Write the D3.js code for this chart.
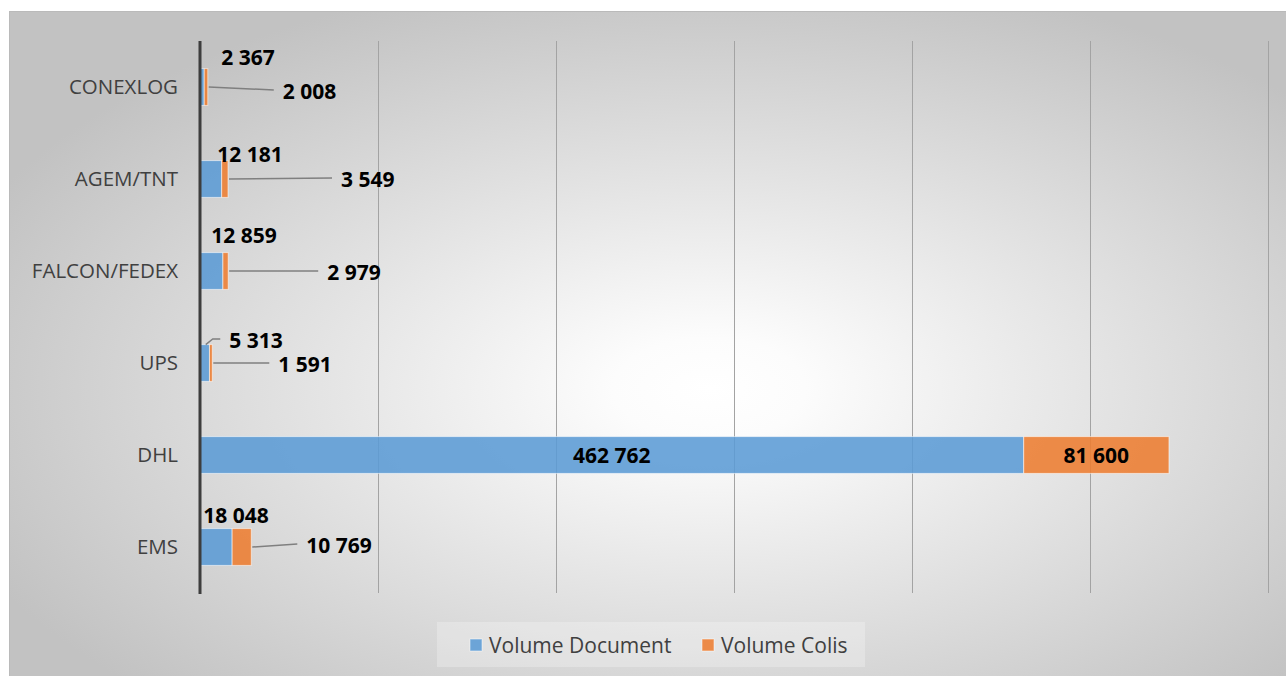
<!DOCTYPE html>
<html>
<head>
<meta charset="utf-8">
<script src="https://cdn.jsdelivr.net/npm/d3@7"></script>
<style>
  html, body { margin: 0; padding: 0; background: #fff; }
  svg { display: block; font-family: "Open Sans", sans-serif; }
</style>
</head>
<body>
<svg id="chart" width="1286" height="676"></svg>
<script>
// data
const categories = ["CONEXLOG", "AGEM/TNT", "FALCON/FEDEX", "UPS", "DHL", "EMS"];
const volumeDocument = [2367, 12181, 12859, 5313, 462762, 18048];
const volumeColis = [2008, 3549, 2979, 1591, 81600, 10769];
const seriesNames = ["Volume Document", "Volume Colis"];
const xTicks = [0, 100000, 200000, 300000, 400000, 500000, 600000];

// where Excel dropped the labels (offsets in px, not data)
const docLabelPos = [
  { dx: 48, dy: -30 },
  { dx: 50, dy: -25 },
  { dx: 44, dy: -36 },
  { dx: 56, dy: -23, leader: true },
  { inside: true },
  { dx: 36, dy: -32 }
];
const colisLabelPos = [
  { dx: 75, dy: 4 },
  { dx: 113, dy: 0 },
  { dx: 99, dy: 1 },
  { dx: 66, dy: 1 },
  { inside: true },
  { dx: 55, dy: -2 }
];

const colors = ["#5B9BD5", "#ED7D31"];
const fmt = v => d3.format(",")(v).replace(/,/g, " ");

const svg = d3.select("#chart");
const width = +svg.attr("width");
const height = +svg.attr("height");
const margin = { top: 41, right: 18, bottom: 83, left: 200 };
const innerWidth = width - margin.left - margin.right;
const innerHeight = height - margin.top - margin.bottom;

// background with radial gradient
const defs = svg.append("defs");
const grad = defs.append("radialGradient")
  .attr("id", "bg")
  .attr("cx", "0.54").attr("cy", "0.55")
  .attr("r", "0.62");
grad.append("stop").attr("offset", "0").attr("stop-color", "#ffffff");
grad.append("stop").attr("offset", "0.12").attr("stop-color", "#fcfcfc");
grad.append("stop").attr("offset", "1").attr("stop-color", "#c2c2c2");

svg.append("rect")
  .attr("x", 9.5).attr("y", 11.5)
  .attr("width", width + 10).attr("height", height + 10)
  .attr("fill", "url(#bg)")
  .attr("stroke", "#bababa");

const g = svg.append("g")
  .attr("transform", `translate(${margin.left},${margin.top})`);

const x = d3.scaleLinear()
  .domain([0, 600000])
  .range([0, innerWidth]);

const y = d3.scaleBand()
  .domain(categories)
  .range([0, innerHeight])
  .paddingInner(0.6)
  .paddingOuter(0.3);

// gridlines
const grid = g.append("g")
  .call(d3.axisBottom(x).tickValues(xTicks).tickSize(innerHeight).tickFormat(""));
grid.select(".domain").remove();
grid.selectAll(".tick line").attr("stroke", "#a3a3a3").attr("stroke-width", 1);

// stacked bars
const rows = categories.map((c, i) => ({ cat: c, doc: volumeDocument[i], colis: volumeColis[i] }));
const stack = d3.stack().keys(["doc", "colis"])(rows);

g.selectAll(".serie")
  .data(stack)
  .enter()
  .append("g")
  .attr("fill", (d, i) => colors[i])
  .attr("fill-opacity", 0.88)
  .selectAll("rect")
  .data(d => d)
  .enter()
  .append("rect")
  .attr("x", d => x(d[0]))
  .attr("y", d => y(d.data.cat))
  .attr("width", d => x(d[1]) - x(d[0]))
  .attr("height", y.bandwidth())
  .attr("stroke", "#ffffff")
  .attr("stroke-opacity", 0.55)
  .attr("stroke-width", 1);

// category axis
const yAxis = g.append("g")
  .call(d3.axisLeft(y).tickSize(0).tickPadding(22));
yAxis.select(".domain").remove();
yAxis.selectAll("text")
  .attr("font-family", "Open Sans, sans-serif")
  .attr("font-size", "20.5px")
  .attr("fill", "#404040");

g.append("line")
  .attr("x1", 0).attr("x2", 0)
  .attr("y1", 0).attr("y2", innerHeight + 1)
  .attr("stroke", "#3d3d3d")
  .attr("stroke-width", 3);

// data labels
const labels = g.append("g")
  .attr("font-size", "21px")
  .attr("font-weight", "bold")
  .attr("fill", "#000");

rows.forEach((r, i) => {
  const cy = y(r.cat) + y.bandwidth() / 2;
  const dp = docLabelPos[i];
  const cp = colisLabelPos[i];

  if (dp.inside) {
    labels.append("text")
      .attr("x", x(r.doc / 2)).attr("y", cy).attr("dy", "0.36em")
      .attr("text-anchor", "middle").text(fmt(r.doc));
  } else {
    const tx = x(0) + dp.dx;
    const ty = cy + dp.dy;
    const t = labels.append("text")
      .attr("x", tx).attr("y", ty).attr("dy", "0.36em")
      .attr("text-anchor", "middle").text(fmt(r.doc));
    if (dp.leader) {
      const w = t.node().getComputedTextLength();
      const bx = x(r.doc / 2) + 1;
      g.append("polyline")
        .attr("points", [[bx, y(r.cat)], [bx + 7, ty - 1], [tx - w / 2 - 9, ty - 1]].join(" "))
        .attr("fill", "none").attr("stroke", "#7f7f7f").attr("stroke-width", 1.5);
    }
  }

  const total = r.doc + r.colis;
  if (cp.inside) {
    labels.append("text")
      .attr("x", x(r.doc + r.colis / 2)).attr("y", cy).attr("dy", "0.36em")
      .attr("text-anchor", "middle").text(fmt(r.colis));
  } else {
    const tx = x(total) + cp.dx;
    const ty = cy + cp.dy;
    labels.append("text")
      .attr("x", tx).attr("y", ty).attr("dy", "0.36em")
      .attr("text-anchor", "start").text(fmt(r.colis));
    g.append("line")
      .attr("x1", x(total) + 1).attr("y1", cy)
      .attr("x2", tx - 9).attr("y2", ty - 1)
      .attr("stroke", "#7f7f7f").attr("stroke-width", 1.5);
  }
});

// legend
const legend = svg.append("g");
legend.append("rect")
  .attr("x", 437).attr("y", 622)
  .attr("width", 428).attr("height", 45)
  .attr("fill", "#ffffff").attr("fill-opacity", 0.25);

const legendX = [470, 702];
seriesNames.forEach((name, i) => {
  legend.append("rect")
    .attr("x", legendX[i]).attr("y", 639)
    .attr("width", 12).attr("height", 12)
    .attr("fill", colors[i]).attr("fill-opacity", 0.88)
    .attr("stroke", "#fff").attr("stroke-opacity", 0.5);
  legend.append("text")
    .attr("x", legendX[i] + 19).attr("y", 645).attr("dy", "0.36em")
    .attr("font-size", "21px")
    .attr("fill", "#404040")
    .text(name);
});
</script>
</body>
</html>
